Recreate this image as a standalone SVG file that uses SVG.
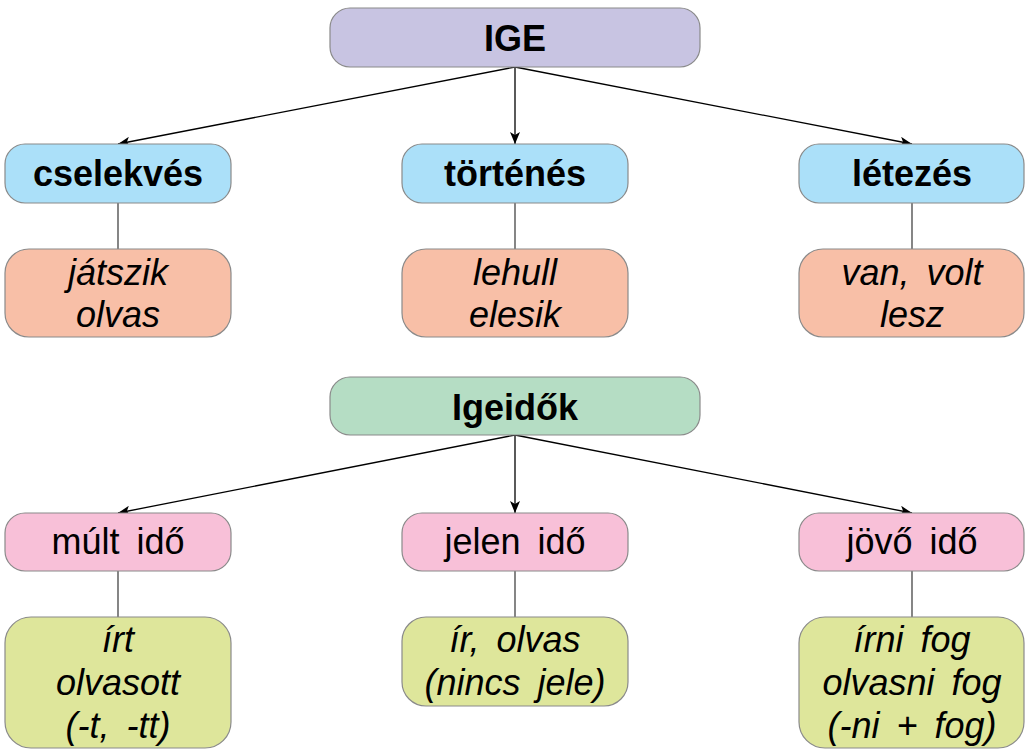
<svg xmlns="http://www.w3.org/2000/svg" width="1025" height="749" viewBox="0 0 1025 749">
<style>
.box{stroke:#8a8a8a;stroke-width:1.2}
.top{fill:#c8c4e2}
.cat{fill:#abe0f9}
.ex{fill:#f8bfa7}
.tm{fill:#b5ddc4}
.tense{fill:#f8c0d8}
.tex{fill:#dee69b}
text{font-family:"Liberation Sans",Arial,sans-serif;font-size:36px;fill:#000;text-anchor:middle;word-spacing:7px}
.b{font-weight:bold}
.i{font-style:italic}
.arr{stroke:#000;stroke-width:1.3;fill:none;marker-end:url(#ah)}
.ln{stroke:#444;stroke-width:1.3;fill:none}
</style>
<defs>
<marker id="ah" viewBox="0 0 12 10" refX="12" refY="5" markerWidth="12" markerHeight="10" markerUnits="userSpaceOnUse" orient="auto">
<path d="M0,0 L12,5 L0,10 L3,5 z" fill="#000"/>
</marker>
</defs>
<g id="connectors">
<line class="arr" x1="515" y1="67" x2="118" y2="144"/>
<line class="arr" x1="515" y1="67" x2="515" y2="144"/>
<line class="arr" x1="515" y1="67" x2="912" y2="144"/>
<line class="ln" x1="118" y1="203" x2="118" y2="249"/>
<line class="ln" x1="515" y1="203" x2="515" y2="249"/>
<line class="ln" x1="912" y1="203" x2="912" y2="249"/>
<line class="arr" x1="515" y1="435" x2="118" y2="513"/>
<line class="arr" x1="515" y1="435" x2="515" y2="513"/>
<line class="arr" x1="515" y1="435" x2="912" y2="513"/>
<line class="ln" x1="118" y1="571" x2="118" y2="617"/>
<line class="ln" x1="515" y1="571" x2="515" y2="617"/>
<line class="ln" x1="912" y1="571" x2="912" y2="617"/>
</g>
<g id="ige"><rect class="box top" x="330" y="8" width="370" height="59" rx="20"/><text class="b" x="515" y="51">IGE</text></g>
<g id="cselekves"><rect class="box cat" x="5" y="144" width="226" height="59" rx="20"/><text class="b" x="118" y="186">cselekvés</text></g>
<g id="tortenes"><rect class="box cat" x="402" y="144" width="226" height="59" rx="20"/><text class="b" x="515" y="186">történés</text></g>
<g id="letezes"><rect class="box cat" x="799" y="144" width="225" height="59" rx="20"/><text class="b" x="912" y="186">létezés</text></g>
<g id="ex1"><rect class="box ex" x="5" y="249" width="226" height="88" rx="24"/><text class="i" x="118" y="285">játszik</text><text class="i" x="118" y="327">olvas</text></g>
<g id="ex2"><rect class="box ex" x="402" y="249" width="226" height="88" rx="24"/><text class="i" x="515" y="285">lehull</text><text class="i" x="515" y="327">elesik</text></g>
<g id="ex3"><rect class="box ex" x="799" y="249" width="225" height="88" rx="24"/><text class="i" x="912" y="285">van, volt</text><text class="i" x="912" y="327">lesz</text></g>
<g id="igeidok"><rect class="box tm" x="330" y="377" width="370" height="58" rx="20"/><text class="b" x="515" y="420">Igeidők</text></g>
<g id="mult"><rect class="box tense" x="5" y="513" width="226" height="58" rx="20"/><text x="118" y="554">múlt idő</text></g>
<g id="jelen"><rect class="box tense" x="402" y="513" width="226" height="58" rx="20"/><text x="515" y="554">jelen idő</text></g>
<g id="jovo"><rect class="box tense" x="799" y="513" width="225" height="58" rx="20"/><text x="912" y="554">jövő idő</text></g>
<g id="mult-ex"><rect class="box tex" x="5" y="617" width="226" height="131" rx="26"/><text class="i" x="118" y="652">írt</text><text class="i" x="118" y="695">olvasott</text><text class="i" x="118" y="738">(-t, -tt)</text></g>
<g id="jelen-ex"><rect class="box tex" x="402" y="617" width="226" height="89" rx="24"/><text class="i" x="515" y="652">ír, olvas</text><text class="i" x="515" y="695">(nincs jele)</text></g>
<g id="jovo-ex"><rect class="box tex" x="799" y="617" width="225" height="131" rx="26"/><text class="i" x="912" y="652">írni fog</text><text class="i" x="912" y="695">olvasni fog</text><text class="i" x="912" y="738">(-ni + fog)</text></g>
</svg>
